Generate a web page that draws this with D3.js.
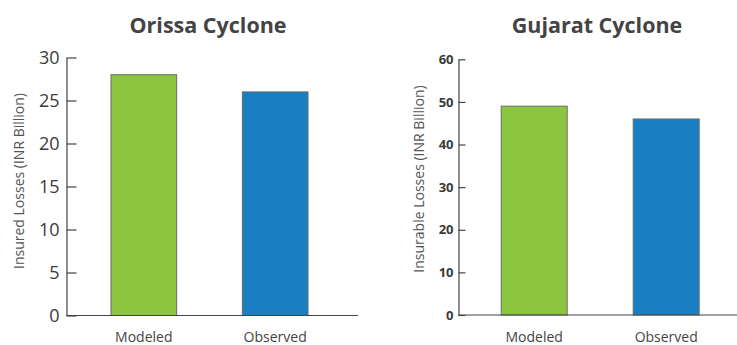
<!DOCTYPE html>
<html><head><meta charset="utf-8">
<script src="https://cdn.jsdelivr.net/npm/d3@7"></script>
<style>body{margin:0;background:#fff;} svg{display:block;font-family:"Open Sans",sans-serif;}</style>
</head><body>
<svg id="c" width="737" height="345"></svg>
<script>
const categories = ["Modeled", "Observed"];
const orissaValues = [28, 26];
const gujaratValues = [49, 46];
const orissaTicks = [0, 5, 10, 15, 20, 25, 30];
const gujaratTicks = [0, 10, 20, 30, 40, 50, 60];
const barColors = ["#8cc63f", "#1a7fc2"];

const svg = d3.select("#c");

function panel(cfg) {
  const g = svg.append("g");
  const x = d3.scaleBand().domain(categories).range(cfg.xr).paddingInner(0.5).paddingOuter(0.35);
  const y = d3.scaleLinear().domain([0, cfg.max]).range([cfg.y0, cfg.y1]);

  g.selectAll("rect.bar").data(cfg.values).join("rect")
    .attr("class", "bar")
    .attr("x", (d, i) => x(categories[i]))
    .attr("width", x.bandwidth())
    .attr("y", d => y(d))
    .attr("height", d => y(0) - y(d))
    .attr("fill", (d, i) => barColors[i])
    .attr("stroke", "#6b6b6b").attr("stroke-width", 1);

  const ax = g.append("g").attr("transform", `translate(${cfg.ax},0)`)
    .call(d3.axisLeft(y).tickValues(cfg.ticks).tickSize(-cfg.tick).tickSizeOuter(0).tickPadding(cfg.pad));
  ax.selectAll("path,line").attr("stroke", "#444").attr("stroke-width", 1.2);
  ax.selectAll("text").attr("fill", "#3a3a3a")
    .style("font-size", cfg.tickFont + "px").style("font-weight", cfg.tickWeight)
    .style("font-family", '"Open Sans",sans-serif');

  g.append("line").attr("x1", cfg.ax).attr("x2", cfg.xEnd)
    .attr("y1", y(0)).attr("y2", y(0)).attr("stroke", "#444").attr("stroke-width", 1.2);

  g.selectAll("text.xl").data(categories).join("text").attr("class", "xl")
    .attr("x", d => x(d) + x.bandwidth() / 2).attr("y", 342)
    .attr("text-anchor", "middle").attr("fill", "#444")
    .style("font-size", "14px").text(d => d);

  g.append("text").attr("x", cfg.tx).attr("y", 32.5).attr("text-anchor", "middle")
    .attr("fill", "#444").style("font-size", "21.5px").style("font-weight", "700").text(cfg.title);

  g.append("text").attr("transform", `translate(${cfg.lx},${cfg.ly}) rotate(-90)`)
    .attr("text-anchor", "middle").attr("dy", "0.35em").attr("fill", "#555")
    .style("font-size", "14px").text(cfg.label);
}

panel({values: orissaValues, ticks: orissaTicks, max: 30, xr: [65, 354], y0: 315.5, y1: 57.5,
  ax: 66.5, xEnd: 358, tick: 10, pad: 7, tickFont: 18, tickWeight: 400,
  title: "Orissa Cyclone", tx: 208, label: "Insured Losses (INR Billion)", lx: 19, ly: 181});
panel({values: gujaratValues, ticks: gujaratTicks, max: 60, xr: [455, 745.4], y0: 315, y1: 59.3,
  ax: 458.5, xEnd: 737, tick: 7, pad: 5, tickFont: 13, tickWeight: 700,
  title: "Gujarat Cyclone", tx: 597, label: "Insurable Losses (INR Billion)", lx: 419, ly: 179});
</script>
</body></html>
